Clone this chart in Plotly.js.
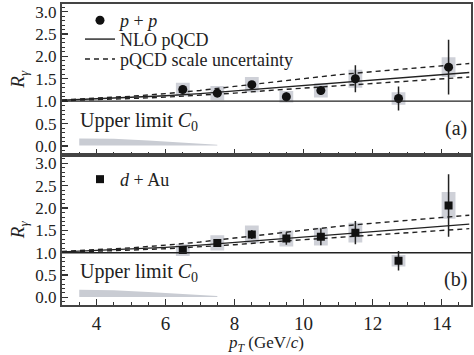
<!DOCTYPE html>
<html><head><meta charset="utf-8">
<script src="https://cdn.plot.ly/plotly-3.0.1.min.js"></script>
<style>html,body{margin:0;padding:0;background:#fff}#c{width:474px;height:355px}</style>
</head><body><div id="c"></div>
<script>
// p+p data (top panel)
const ppX = [6.5, 7.5, 8.5, 9.5, 10.5, 11.5, 12.75, 14.2];
const ppY = [1.26, 1.18, 1.37, 1.10, 1.24, 1.50, 1.06, 1.76];
const ppStat = [0.05, 0.05, 0.08, 0.10, 0.10, 0.30, 0.27, 0.61];
const ppSys = [0.15, 0.16, 0.17, 0.13, 0.16, 0.20, 0.14, 0.22];
// d+Au data (bottom panel)
const daX = [6.5, 7.5, 8.5, 9.5, 10.5, 11.5, 12.75, 14.2];
const daY = [1.06, 1.22, 1.41, 1.32, 1.36, 1.45, 0.82, 2.06];
const daStat = [0.05, 0.06, 0.10, 0.14, 0.19, 0.26, 0.22, 0.70];
const daSys = [0.13, 0.17, 0.20, 0.18, 0.20, 0.22, 0.13, 0.30];
// NLO pQCD curves
const curveX = [3.0, 4, 5, 6, 7, 8, 9, 10, 11, 12, 13, 14, 14.8];
const nlo   = [1.02, 1.05, 1.08, 1.12, 1.17, 1.23, 1.29, 1.35, 1.42, 1.48, 1.54, 1.60, 1.64];
const upper = [1.03, 1.07, 1.11, 1.17, 1.24, 1.33, 1.42, 1.51, 1.59, 1.66, 1.73, 1.79, 1.84];
const lower = [1.01, 1.03, 1.06, 1.09, 1.13, 1.18, 1.24, 1.29, 1.34, 1.40, 1.45, 1.50, 1.54];
// Upper limit C0 band
const c0X = [3.5, 4.5, 5.5, 6.5, 7.5];
const c0Top = [0.17, 0.16, 0.12, 0.07, 0.03];
const c0Bot = [0.01, 0.01, 0.01, 0.01, 0.01];
const xTicks = [4, 6, 8, 10, 12, 14];
const yTicks = [0, 0.5, 1, 1.5, 2, 2.5, 3];

const FONT = 'Liberation Serif, Times New Roman, serif';
const BOX = '#cfd1d8';
const traces = [];
function panel(xa, ya, X, Y, stat, sys, sym, name, legP, legN, legU) {
  traces.push({type:'bar', x:X, y:sys.map(s=>2*s), base:Y.map((v,i)=>v-sys[i]), width:0.4,
    marker:{color:BOX, line:{width:0}}, xaxis:xa, yaxis:ya, showlegend:false, hoverinfo:'skip'});
  traces.push({type:'scatter', mode:'lines', x:c0X.concat(c0X.slice().reverse()),
    y:c0Top.concat(c0Bot.slice().reverse()), fill:'toself', fillcolor:'#c9ccd3',
    line:{width:0, color:'#c9ccd3'}, xaxis:xa, yaxis:ya, showlegend:false});
  traces.push({type:'scatter', mode:'lines', x:curveX, y:nlo, line:{color:'#222', width:1.4},
    name:'NLO pQCD', xaxis:xa, yaxis:ya, showlegend:!!legN, legend:legN || 'legend'});
  traces.push({type:'scatter', mode:'lines', x:curveX, y:upper, line:{color:'#222', width:1.4, dash:'5px,4px'},
    name:'pQCD scale uncertainty', xaxis:xa, yaxis:ya, showlegend:!!legU, legend:legU || 'legend'});
  traces.push({type:'scatter', mode:'lines', x:curveX, y:lower, line:{color:'#222', width:1.4, dash:'5px,4px'},
    xaxis:xa, yaxis:ya, showlegend:false});
  traces.push({type:'scatter', mode:'markers', x:X, y:Y, name:name,
    marker:{symbol:sym, color:'#111', size:sym==='circle'?9:8},
    error_y:{type:'data', array:stat, visible:true, color:'#222', thickness:1.5, width:0},
    xaxis:xa, yaxis:ya, legend:legP});
}
panel('x', 'y', ppX, ppY, ppStat, ppSys, 'circle', '<i>p</i> + <i>p</i>', 'legend', 'legend3', 'legend4');
panel('x2', 'y2', daX, daY, daStat, daSys, 'square', '<i>d</i> + Au', 'legend2', null, null);

const xa = {range:[3.0, 14.85], tickvals:xTicks, ticks:'inside', ticklen:6, tickwidth:1.2, tickcolor:'#333',
  minor:{dtick:0.5, tick0:0, ticks:'inside', ticklen:3, tickcolor:'#333', tickwidth:1},
  showline:true, linecolor:'#444', linewidth:2, mirror:true, showgrid:false, zeroline:false,
  tickfont:{family:FONT, size:19, color:'#222'}};
const ya = {tickvals:yTicks, ticktext:yTicks.map(v=>v.toFixed(1)), ticks:'inside', ticklen:6, tickwidth:1.2, tickcolor:'#333',
  minor:{dtick:0.1, tick0:0, ticks:'inside', ticklen:3, tickcolor:'#333', tickwidth:1},
  showline:true, linecolor:'#444', linewidth:2, mirror:true, showgrid:false, zeroline:false,
  tickfont:{family:FONT, size:17, color:'#222'},
  title:{text:'<i>R</i><sub><i>γ</i></sub>', font:{family:FONT, size:19, color:'#222'}, standoff:6}};

// legend placed by the pixel row of its top edge
function leg(topPx) {
  return {x:0.044, xanchor:'left', y:(305 - topPx) / 303, yanchor:'top', bgcolor:'rgba(0,0,0,0)', borderwidth:0,
    font:{family:FONT, size:18, color:'#222'}, itemwidth:30};
}
const layout = {
  width:474, height:355, margin:{l:62, r:3, t:2, b:50},
  paper_bgcolor:'#fff', plot_bgcolor:'#fff', barmode:'overlay',
  font:{family:FONT, size:19, color:'#222'},
  xaxis:Object.assign({}, xa, {domain:[0,1], anchor:'y', showticklabels:false}),
  yaxis:Object.assign({}, ya, {domain:[0.5,1], anchor:'x', range:[-0.19, 3.17]}),
  xaxis2:Object.assign({}, xa, {domain:[0,1], anchor:'y2',
    title:{text:'<i>p</i><sub><i>T</i></sub> (GeV/<i>c</i>)', font:{family:FONT, size:17, color:'#222'}, standoff:2}}),
  yaxis2:Object.assign({}, ya, {domain:[0,0.5], anchor:'x2', range:[-0.17, 3.2]}),
  legend:leg(0), legend3:leg(19), legend4:leg(39), legend2:leg(160),
  shapes:[
    {type:'line', xref:'x domain', yref:'y', x0:0, x1:1, y0:1, y1:1, line:{color:'#222', width:1.3}},
    {type:'line', xref:'x2 domain', yref:'y2', x0:0, x1:1, y0:1, y1:1, line:{color:'#222', width:1.3}}
  ],
  annotations:[
    {xref:'x', yref:'y', x:3.45, y:0.55, xanchor:'left', yanchor:'middle', showarrow:false,
      text:'Upper limit <i>C</i><sub>0</sub>', font:{family:FONT, size:20, color:'#222'}},
    {xref:'x2', yref:'y2', x:3.45, y:0.55, xanchor:'left', yanchor:'middle', showarrow:false,
      text:'Upper limit <i>C</i><sub>0</sub>', font:{family:FONT, size:20, color:'#222'}},
    {xref:'paper', yref:'y', x:0.995, y:0.4, xanchor:'right', yanchor:'middle', showarrow:false,
      text:'(a)', font:{family:FONT, size:20, color:'#222'}},
    {xref:'paper', yref:'y2', x:0.995, y:0.4, xanchor:'right', yanchor:'middle', showarrow:false,
      text:'(b)', font:{family:FONT, size:20, color:'#222'}}
  ]
};
Plotly.newPlot('c', traces, layout, {displayModeBar:false, staticPlot:true});
</script></body></html>
